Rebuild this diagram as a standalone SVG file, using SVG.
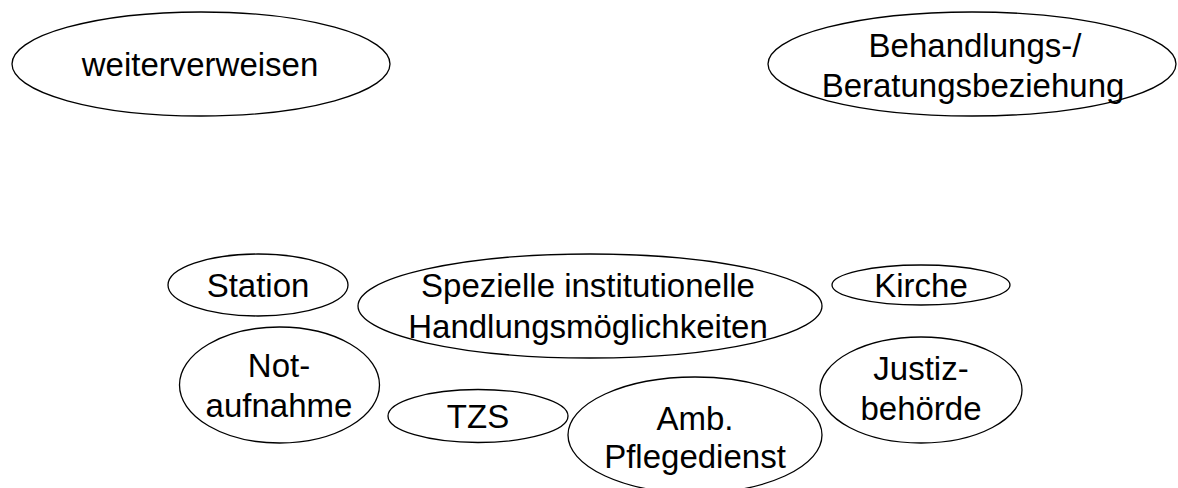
<svg xmlns="http://www.w3.org/2000/svg" width="1178" height="488" viewBox="0 0 1178 488">
  <style>
    .node ellipse { fill: none; stroke: #000; stroke-width: 1.3; }
    .node text { font-family: "Liberation Sans", Arial, sans-serif; font-size: 33px; fill: #000; text-anchor: middle; }
  </style>
  <rect width="1178" height="488" fill="#fff"/>

  <g id="weiterverweisen" class="node">
    <ellipse cx="201" cy="64" rx="189" ry="52"/>
    <text x="200" y="76">weiterverweisen</text>
  </g>

  <g id="behandlungsbeziehung" class="node">
    <ellipse cx="972" cy="64" rx="204" ry="52"/>
    <text x="975" y="57">Behandlungs-/</text>
    <text x="973" y="97">Beratungsbeziehung</text>
  </g>

  <g id="station" class="node">
    <ellipse cx="258" cy="285" rx="90" ry="31"/>
    <text x="258" y="297">Station</text>
  </g>

  <g id="spezielle" class="node">
    <ellipse cx="590" cy="306" rx="232" ry="52"/>
    <text x="588" y="297">Spezielle institutionelle</text>
    <text x="588" y="338">Handlungsmöglichkeiten</text>
  </g>

  <g id="kirche" class="node">
    <ellipse cx="921" cy="285" rx="89" ry="20"/>
    <text x="921" y="297">Kirche</text>
  </g>

  <g id="notaufnahme" class="node">
    <ellipse cx="279.5" cy="385" rx="100" ry="58"/>
    <text x="279" y="377">Not-</text>
    <text x="279" y="417">aufnahme</text>
  </g>

  <g id="tzs" class="node">
    <ellipse cx="478" cy="416" rx="90" ry="26.5"/>
    <text x="478" y="428">TZS</text>
  </g>

  <g id="pflegedienst" class="node">
    <ellipse cx="695" cy="435" rx="127" ry="58"/>
    <text x="695" y="430">Amb.</text>
    <text x="695" y="468">Pflegedienst</text>
  </g>

  <g id="justizbehoerde" class="node">
    <ellipse cx="921" cy="390" rx="101" ry="53"/>
    <text x="921" y="380">Justiz-</text>
    <text x="921" y="420">behörde</text>
  </g>

  <g id="connectors"/>
</svg>
